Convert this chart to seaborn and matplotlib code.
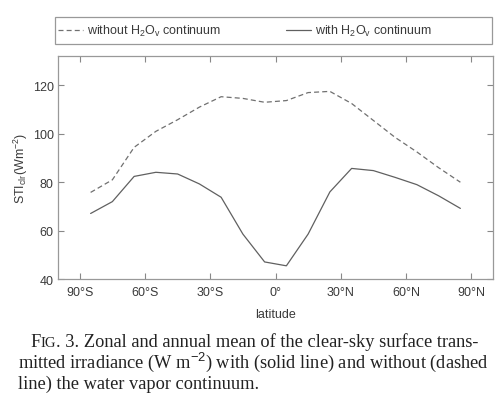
import numpy as np
import pandas as pd
import matplotlib
matplotlib.use("Agg")
import matplotlib.pyplot as plt
from matplotlib.patches import Rectangle
import seaborn as sns

# zonal means, 10 deg bands
lat = [-85, -75, -65, -55, -45, -35, -25, -15, -5, 5, 15, 25, 35, 45, 55, 65, 75, 85]
sti_without = [75.8, 81.0, 94.4, 101.0, 105.8, 111.0, 115.3, 114.6, 113.0, 113.7,
               117.0, 117.5, 112.5, 105.5, 98.5, 92.5, 86.0, 80.0]
sti_with = [67.1, 72.0, 82.4, 84.1, 83.4, 79.3, 73.8, 58.6, 47.1, 45.5,
            58.6, 76.0, 85.7, 84.8, 82.0, 79.0, 74.4, 69.2]
xticks = [-90, -60, -30, 0, 30, 60, 90]
xticklabels = ["90°S", "60°S", "30°S", "0°", "30°N", "60°N", "90°N"]
yticks = [40, 60, 80, 100, 120]

df = pd.DataFrame({"lat": lat, "without": sti_without, "with": sti_with})

sns.set_style("ticks")
plt.rcParams["font.family"] = ["Liberation Sans", "DejaVu Sans"]
plt.rcParams["mathtext.fontset"] = "custom"
plt.rcParams["mathtext.rm"] = "Liberation Sans"
plt.rcParams["mathtext.it"] = "Liberation Sans"

fig = plt.figure(figsize=(5, 4.06), dpi=100)
ax = fig.add_axes([0.116, 0.310, 0.870, 0.549])

sns.lineplot(data=df, x="lat", y="without", ax=ax, color="#707070", lw=0.9,
             linestyle=(0, (4, 2.5)), label="without H$_2$O$_v$ continuum")
sns.lineplot(data=df, x="lat", y="with", ax=ax, color="#606060", lw=0.9,
             label="with H$_2$O$_v$ continuum")

ax.set_xlim(-100, 100)
ax.set_ylim(40, 132)
ax.set_xticks(xticks)
ax.set_xticklabels(xticklabels)
ax.set_yticks(yticks)
ax.tick_params(direction="in", top=True, right=True, length=4, width=0.8,
               color="#888888", labelsize=9, labelcolor="#3a3a3a", pad=3)
ax.tick_params(axis="x", pad=5)
for s in ax.spines.values():
    s.set_color("#999999")
    s.set_linewidth(0.9)
ax.set_xlabel("latitude", fontsize=9, color="#3a3a3a", labelpad=7)
ax.set_ylabel("STI$_{clr}$(Wm$^{-2}$)", fontsize=9, color="#3a3a3a", labelpad=2)

# legend strip above the axes
h, l = ax.get_legend_handles_labels()
ax.get_legend().remove()
fig.patches.append(Rectangle((55 / 500, 1 - 45 / 406), 437 / 500, 27 / 406,
                             transform=fig.transFigure, fill=False,
                             edgecolor="#999999", lw=0.9))
leg = fig.legend(h, l, loc="center left", bbox_to_anchor=(58 / 500, 1 - 31.5 / 406),
                 ncol=2, fontsize=9, frameon=False, handlelength=2.0,
                 handletextpad=0.35, columnspacing=5.15, borderaxespad=0, borderpad=0)
for t in leg.get_texts():
    t.set_color("#3a3a3a")

# caption, serif, small caps "IG"
serif = ["Liberation Serif", "DejaVu Serif"]
cap = dict(family=serif, fontsize=13.2, color="#222222", va="baseline")
fig.canvas.draw()
r = fig.canvas.get_renderer()
x0 = 30 / 500
y1 = 1 - 347 / 406
t = fig.text(x0, y1, "F", **cap)
w = t.get_window_extent(r).width / 500
t2 = fig.text(x0 + w, y1, "IG", **{**cap, "fontsize": 10.5})
w2 = t2.get_window_extent(r).width / 500
fig.text(x0 + w + w2, y1, ". 3. Zonal and annual mean of the clear-sky surface trans-", **cap)
fig.text(18 / 500, 1 - 368 / 406,
         "mitted irradiance (W m$^{-2}$) with (solid line) and without (dashed", **cap)
fig.text(18 / 500, 1 - 389 / 406, "line) the water vapor continuum.", **cap)

fig.savefig("out.png", dpi=100)
